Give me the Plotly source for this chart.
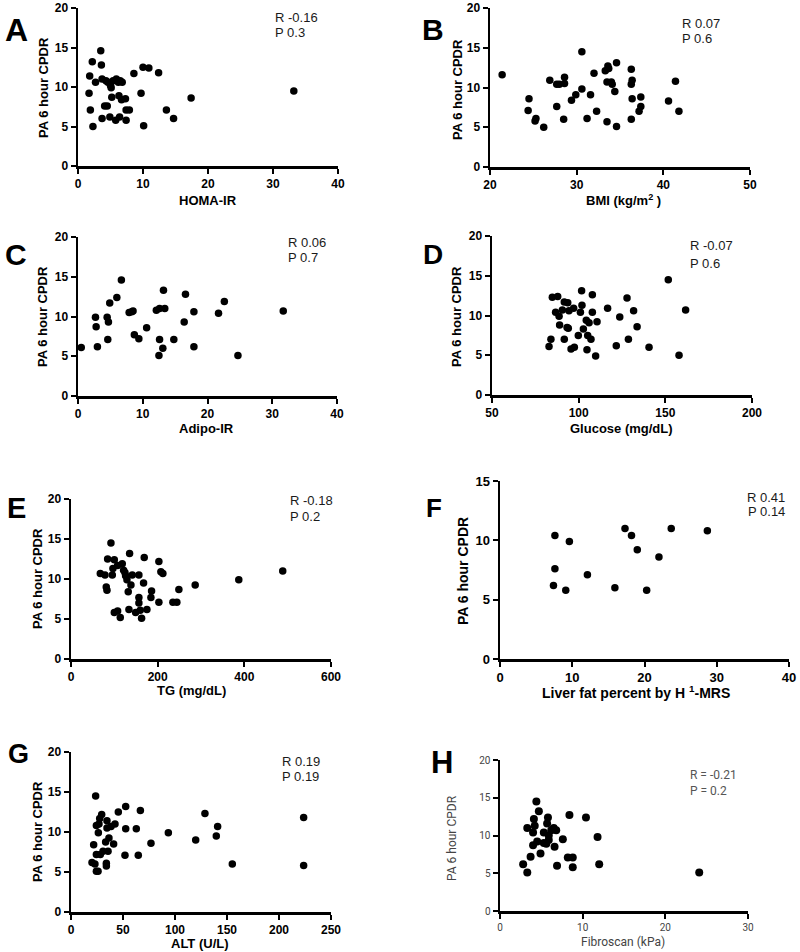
import plotly.graph_objects as go

W, H = 800, 952

# ---------------- data ----------------
homa_ir = [3.5, 2.2, 3.6, 1.8, 2.7, 3.7, 4.3, 4.6, 5.0, 5.1, 5.4, 5.9, 6.2, 6.5, 6.8, 1.7, 5.2, 6.3, 6.7, 7.3,
           4.1, 4.5, 1.9, 7.4, 7.9, 3.7, 4.9, 5.8, 6.4, 7.4, 2.3, 8.6, 10.0, 10.9, 12.4, 9.7, 10.1, 13.6, 14.7, 17.4, 33.2]
cpdr_a = [14.6, 13.2, 12.8, 11.4, 10.6, 11.0, 10.8, 10.6, 10.2, 9.9, 10.8, 11.0, 10.6, 10.8, 10.6, 9.2, 8.7, 8.9, 8.4, 8.5,
          7.6, 7.6, 7.1, 7.1, 7.1, 6.0, 6.2, 5.8, 6.2, 5.8, 5.0, 11.7, 12.5, 12.4, 11.8, 9.2, 5.1, 7.1, 6.0, 8.6, 9.5]

bmi = [21.4, 24.5, 24.4, 25.3, 25.2, 26.2, 26.9, 27.7, 28.0, 28.6, 28.6, 27.7, 28.5, 29.4, 29.9, 30.6, 30.6, 32.0, 31.6, 31.2,
       32.3, 33.3, 33.6, 33.7, 33.5, 34.0, 34.1, 34.4, 34.6, 33.5, 34.6, 36.3, 36.4, 36.3, 36.4, 36.3, 37.4, 37.4, 37.2, 40.6, 41.4, 41.8]
cpdr_b = [11.6, 8.6, 7.1, 6.1, 5.8, 5.0, 10.9, 10.4, 10.4, 11.3, 10.5, 7.6, 6.0, 8.4, 9.1, 9.8, 14.5, 11.8, 9.1, 6.1,
          7.0, 12.1, 12.7, 12.4, 10.7, 10.7, 10.4, 9.5, 13.1, 5.7, 5.1, 12.3, 10.9, 10.4, 8.6, 6.0, 8.8, 7.6, 7.0, 8.3, 10.8, 7.0]

adipo_ir = [0.5, 2.7, 2.8, 3.0, 4.5, 4.7, 4.6, 4.9, 6.0, 6.7, 7.9, 8.3, 8.5, 8.7, 9.4, 10.6, 12.1, 12.6, 13.4, 13.2,
            12.6, 14.8, 13.1, 12.5, 16.6, 16.4, 17.9, 17.9, 21.7, 22.6, 24.7, 31.7]
cpdr_c = [6.1, 9.9, 8.7, 6.2, 9.9, 9.3, 7.1, 11.7, 12.4, 14.6, 10.5, 10.6, 10.7, 7.7, 7.2, 8.6, 10.8, 11.0, 11.0, 13.3,
          7.1, 7.1, 6.0, 5.1, 12.8, 9.3, 10.6, 6.2, 10.4, 11.9, 5.1, 10.7]

glucose = [82.9, 84.0, 84.8, 87.9, 86.7, 88.7, 89.0, 90.6, 91.7, 93.7, 91.7, 93.3, 94.4, 95.6, 97.5, 97.1, 99.8, 101.0, 101.9, 101.7,
           102.7, 104.4, 104.8, 105.2, 106.0, 107.1, 107.9, 107.9, 109.8, 110.6, 116.7, 123.7, 121.7, 127.9, 128.7, 131.7, 133.7,
           140.6, 151.7, 157.9, 161.7, 94.0]
cpdr_d = [6.1, 7.0, 12.3, 12.4, 10.4, 9.9, 8.8, 10.7, 11.7, 11.6, 7.0, 8.5, 10.6, 5.8, 6.0, 10.9, 7.5, 10.4, 11.3, 13.1,
          8.3, 9.4, 5.7, 7.5, 9.1, 7.0, 12.6, 10.4, 4.9, 9.2, 10.9, 9.8, 6.2, 12.2, 7.0, 10.6, 8.6,
          6.0, 14.5, 5.0, 10.7, 8.4]

tg = [67.6, 78.4, 92.2, 84.5, 99.9, 81.4, 83.0, 95.3, 96.8, 107.6, 118.3, 121.4, 124.5, 126.0, 129.1, 138.3, 132.1, 135.2,
      141.4, 156.7, 169.0, 167.5, 99.9, 107.6, 113.7, 133.7, 149.1, 156.7, 156.7, 159.8, 162.9, 175.2, 185.9, 184.4,
      202.8, 207.4, 212.0, 202.8, 235.1, 244.3, 248.9, 286.6, 387.2, 488.6]
cpdr_e = [10.7, 10.5, 14.5, 12.5, 12.4, 9.0, 8.6, 10.5, 11.3, 11.7, 11.9, 11.1, 10.8, 10.4, 9.9, 9.25, 8.4, 13.2,
          10.5, 10.5, 12.7, 9.5, 5.8, 6.0, 5.2, 6.2, 5.8, 7.7, 7.0, 6.1, 5.1, 6.2, 8.5, 7.7,
          12.2, 10.9, 10.7, 7.1, 7.1, 7.1, 8.7, 9.25, 9.9, 11.0]

liver_fat = [7.6, 7.6, 7.4, 9.1, 9.6, 12.1, 15.9, 17.3, 18.2, 19.0, 20.3, 22.0, 23.7, 28.7]
cpdr_f = [10.4, 7.6, 6.2, 5.8, 9.9, 7.1, 6.0, 11.0, 10.4, 9.2, 5.8, 8.6, 11.0, 10.8]

alt = [23.7, 20.2, 23.0, 24.4, 26.0, 21.8, 24.4, 28.2, 30.8, 24.4, 26.9, 26.3, 27.6, 29.5, 33.3, 34.0, 34.0, 34.6, 34.6, 35.6,
       36.5, 38.5, 41.0, 42.3, 45.5, 52.6, 52.6, 51.9, 62.8, 64.7, 66.7, 76.9, 93.6, 119.9, 128.8, 139.7, 141.0, 155.1, 223.7, 223.7]
cpdr_g = [14.5, 6.2, 6.0, 5.1, 5.1, 8.4, 7.2, 7.2, 7.6, 10.8, 11.0, 9.9, 11.7, 12.2, 8.75, 6.1, 5.75, 11.4, 10.5, 7.6,
          9.25, 10.7, 8.5, 11.0, 12.5, 13.2, 10.4, 7.1, 10.4, 7.1, 12.7, 8.6, 9.9, 9.0, 12.3, 9.5, 10.7, 6.0, 11.8, 5.8]

fibroscan = [2.8, 3.3, 3.3, 3.7, 4.0, 4.0, 4.1, 4.2, 4.4, 4.5, 4.7, 4.9, 5.3, 5.3, 5.6, 5.7, 5.8, 5.9, 5.9, 6.2,
             6.5, 6.6, 6.8, 6.9, 7.6, 8.4, 8.2, 8.8, 8.8, 10.4, 11.8, 12.0, 24.1]
cpdr_h = [6.2, 5.1, 11.0, 7.2, 10.4, 8.7, 12.2, 11.3, 14.5, 9.2, 13.2, 7.6, 9.0, 10.4, 8.9, 11.6, 12.4, 10.0, 9.4, 10.7,
          11.0, 8.5, 10.7, 6.0, 9.5, 12.7, 7.1, 7.1, 5.8, 12.4, 9.8, 6.2, 5.1]

panel_letters = ["A", "B", "C", "D", "E", "F", "G", "H"]
x_titles = ["HOMA-IR", "BMI (kg/m<sup>2</sup> )", "Adipo-IR", "Glucose (mg/dL)", "TG (mg/dL)",
            "Liver fat percent by H <sup>1</sup>-MRS", "ALT (U/L)", "Fibroscan (kPa)"]
y_title = "PA 6 hour CPDR"
r_labels = ["R -0.16", "R 0.07", "R 0.06", "R -0.07", "R -0.18", "R 0.41", "R 0.19", "R = -0.21"]
p_labels = ["P 0.3", "P 0.6", "P 0.7", "P 0.6", "P 0.2", "P 0.14", "P 0.19", "P = 0.2"]
x_ranges = [(0, 40), (20, 50), (0, 40), (50, 200), (0, 600), (0, 40), (0, 250), (0, 30)]
x_ticks = [[0, 10, 20, 30, 40], [20, 30, 40, 50], [0, 10, 20, 30, 40], [50, 100, 150, 200],
           [0, 200, 400, 600], [0, 10, 20, 30, 40], [0, 50, 100, 150, 200, 250], [0, 10, 20, 30]]
y_ranges = [(0, 20)] * 5 + [(0, 15)] + [(0, 20)] * 2
y_ticks = [[0, 5, 10, 15, 20]] * 5 + [[0, 5, 10, 15]] + [[0, 5, 10, 15, 20]] * 2

xs = [homa_ir, bmi, adipo_ir, glucose, tg, liver_fat, alt, fibroscan]
ys = [cpdr_a, cpdr_b, cpdr_c, cpdr_d, cpdr_e, cpdr_f, cpdr_g, cpdr_h]

# ---------------- layout geometry (pixels) ----------------
# plot area: x0, x1, ytop, ybottom
boxes = [(78, 338, 8, 166), (490, 750, 8, 167), (78, 337, 237, 396), (492, 752, 236, 395),
         (71, 331, 499, 659), (500, 789, 481, 659), (71, 331, 752, 912), (500, 748, 760, 911)]
letter_pos = [(16, 30, 32), (433, 29, 30), (16, 255, 30), (433, 255, 28),
              (16, 508, 29), (434, 508, 26), (18, 754, 27), (442, 762, 31)]
xtitle_pos = [(208, 200), (623, 200), (207, 429), (621, 429), (191, 690), (636, 692), (200, 943), (623, 942)]
ytitle_pos = [(43, 88), (457, 90), (43, 317), (457, 317), (37, 579), (463, 571), (37, 832), (452, 838)]
stat_pos = [(273, 17, 33), (680, 23, 39), (286, 243, 258), (688, 246, 263),
            (288, 500, 516), (787, 497, 511), (280, 761, 776), (688, 775, 791)]

BOLD = "Arial, Liberation Sans, sans-serif"
THIN = "Liberation Sans Narrow, Roboto, Liberation Sans, sans-serif"


def fx(p):
    return p / W


def fy(p):
    return 1 - p / H


fig = go.Figure()
layout = dict(width=W, height=H, margin=dict(l=0, r=0, t=0, b=0, pad=0), autosize=False,
              paper_bgcolor="white", plot_bgcolor="white", showlegend=False, hovermode=False)
annotations = []

for i in range(8):
    sfx = "" if i == 0 else str(i + 1)
    x0, x1, yt, yb = boxes[i]
    is_h = i == 7
    is_f = i == 5
    tick_font = (dict(family=THIN, size=10, color="#444") if is_h
                 else dict(family=BOLD, size=13 if is_f else 12, color="black", weight="bold"))
    fig.add_trace(go.Scatter(x=xs[i], y=ys[i], mode="markers", xaxis="x" + sfx, yaxis="y" + sfx,
                             marker=dict(color="black", size=7.5 if not is_h else 8), cliponaxis=False))
    common = dict(showline=True, linecolor="black", linewidth=2.5, ticks="outside", ticklen=5,
                  tickwidth=2, tickcolor="black", showgrid=False, zeroline=False, fixedrange=True,
                  automargin=False, tickfont=tick_font)
    layout["xaxis" + sfx] = dict(domain=[fx(x0), fx(x1)], range=list(x_ranges[i]), tickvals=x_ticks[i],
                                 anchor="y" + sfx, **common)
    layout["yaxis" + sfx] = dict(domain=[fy(yb), fy(yt)], range=list(y_ranges[i]), tickvals=y_ticks[i],
                                 anchor="x" + sfx, **common)

    # panel letter
    lx, ly, ls = letter_pos[i]
    annotations.append(dict(text="<b>%s</b>" % panel_letters[i], x=fx(lx), y=fy(ly), xref="paper", yref="paper",
                            showarrow=False, xanchor="center", yanchor="middle",
                            font=dict(family=BOLD, size=ls, color="black")))
    # axis titles
    if is_h:
        tfont = dict(family=THIN, size=12, color="#444")
        xt = x_titles[i]
        yt_txt = y_title
    else:
        tfont = dict(family=BOLD, size=14 if is_f else 13, color="black")
        xt = "<b>%s</b>" % x_titles[i]
        yt_txt = "<b>%s</b>" % y_title
    tx, ty = xtitle_pos[i]
    annotations.append(dict(text=xt, x=fx(tx), y=fy(ty), xref="paper", yref="paper", showarrow=False,
                            xanchor="center", yanchor="middle", font=tfont))
    tx, ty = ytitle_pos[i]
    annotations.append(dict(text=yt_txt, x=fx(tx), y=fy(ty), xref="paper", yref="paper", showarrow=False,
                            xanchor="center", yanchor="middle", textangle=-90, font=tfont))
    # stats
    sx, sy1, sy2 = stat_pos[i]
    if is_h:
        sfont = dict(family=THIN, size=12, color="#555")
    else:
        sfont = dict(family="Arial, Liberation Sans, sans-serif", size=13, color="#1a1a1a")
    anchor = "right" if is_f else "left"
    for txt, sy in ((r_labels[i], sy1), (p_labels[i], sy2)):
        annotations.append(dict(text=txt, x=fx(sx), y=fy(sy), xref="paper", yref="paper", showarrow=False,
                                xanchor=anchor, yanchor="middle", font=sfont))

layout["annotations"] = annotations
fig.update_layout(**layout)
fig.write_html("out.html", config={"displayModeBar": False, "staticPlot": True},
               post_script="document.body.style.margin='0';document.body.style.padding='0';"
                           "document.body.style.overflow='hidden';")
